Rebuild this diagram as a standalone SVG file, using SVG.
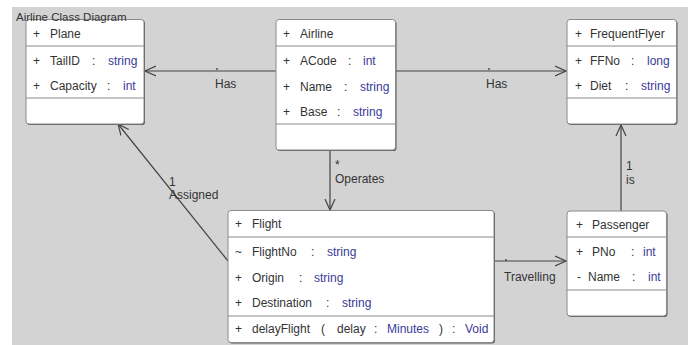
<svg xmlns="http://www.w3.org/2000/svg" width="688" height="345" viewBox="0 0 688 345">
<style>
text{font-family:"Liberation Sans",Arial,sans-serif;font-size:12px;fill:#333}
.t{fill:#3a3a9a}
.box{fill:#fff;stroke:#8a8a8a;stroke-width:1}
.sh{fill:#555}
.div{stroke:#8a8a8a;stroke-width:1}
.ln{stroke:#444;stroke-width:1.2;fill:none}
</style>
<defs>
<marker id="arr" viewBox="0 0 12 12" refX="11" refY="6" markerWidth="12" markerHeight="12" markerUnits="userSpaceOnUse" orient="auto">
<path d="M0,1 L11,6 L0,11" fill="none" stroke="#444" stroke-width="1.2"/>
</marker>
</defs>
<rect x="0" y="0" width="688" height="345" fill="#fff"/>
<rect x="12" y="7" width="676" height="338" fill="#d3d3d3"/>

<g id="connectors">
<line class="ln" x1="276" y1="71" x2="145" y2="71" marker-end="url(#arr)"/>
<circle cx="217" cy="69" r="0.9" fill="#444"/>
<text x="215" y="88">Has</text>
<line class="ln" x1="396" y1="71" x2="566" y2="71" marker-end="url(#arr)"/>
<circle cx="489" cy="69" r="0.9" fill="#444"/>
<text x="486" y="88">Has</text>
<line class="ln" x1="330" y1="150" x2="330" y2="210" marker-end="url(#arr)"/>
<text x="335" y="169">*</text>
<text x="335" y="183">Operates</text>
<line class="ln" x1="228" y1="261" x2="118" y2="124" marker-end="url(#arr)"/>
<text x="169" y="186">1</text>
<text x="169" y="199">Assigned</text>
<line class="ln" x1="494" y1="261" x2="566" y2="261" marker-end="url(#arr)"/>
<circle cx="506" cy="260" r="0.9" fill="#444"/>
<text x="504" y="281">Travelling</text>
<line class="ln" x1="621" y1="211" x2="621" y2="125" marker-end="url(#arr)"/>
<text x="626" y="170">1</text>
<text x="626" y="184">is</text>
</g>

<g id="Plane">
<rect class="sh" x="27" y="20.5" width="118" height="104.5" rx="3"/>
<rect class="box" x="26" y="19.5" width="118" height="104.5" rx="3"/>
<line class="div" x1="26" y1="46" x2="144" y2="46"/>
<line class="div" x1="26" y1="98" x2="144" y2="98"/>
<text x="33" y="38">+</text><text x="50" y="38">Plane</text>
<text x="33" y="65">+</text><text x="50" y="65">TailID</text><text x="92" y="65">:</text><text class="t" x="108" y="65">string</text>
<text x="33" y="90">+</text><text x="50" y="90">Capacity</text><text x="107" y="90">:</text><text class="t" x="123" y="90">int</text>
</g>

<g id="Airline">
<rect class="sh" x="277" y="20.5" width="119.5" height="130.5" rx="3"/>
<rect class="box" x="276" y="19.5" width="119.5" height="130.5" rx="3"/>
<line class="div" x1="276" y1="46" x2="395.5" y2="46"/>
<line class="div" x1="276" y1="124" x2="395.5" y2="124"/>
<text x="283" y="38">+</text><text x="300" y="38">Airline</text>
<text x="283" y="65">+</text><text x="300" y="65">ACode</text><text x="348" y="65">:</text><text class="t" x="363" y="65">int</text>
<text x="283" y="91">+</text><text x="300" y="91">Name</text><text x="344" y="91">:</text><text class="t" x="360" y="91">string</text>
<text x="283" y="116">+</text><text x="300" y="116">Base</text><text x="337" y="116">:</text><text class="t" x="353" y="116">string</text>
</g>

<g id="FrequentFlyer">
<rect class="sh" x="568" y="20.5" width="109.5" height="104.5" rx="3"/>
<rect class="box" x="567" y="19.5" width="109.5" height="104.5" rx="3"/>
<line class="div" x1="567" y1="46" x2="676.5" y2="46"/>
<line class="div" x1="567" y1="98" x2="676.5" y2="98"/>
<text x="575" y="38">+</text><text x="590" y="38">FrequentFlyer</text>
<text x="575" y="65">+</text><text x="590" y="65">FFNo</text><text x="631" y="65">:</text><text class="t" x="647" y="65">long</text>
<text x="575" y="90">+</text><text x="590" y="90">Diet</text><text x="625" y="90">:</text><text class="t" x="641" y="90">string</text>
</g>

<g id="Flight">
<rect class="sh" x="229" y="211.5" width="266" height="132" rx="3"/>
<rect class="box" x="228" y="210.5" width="266" height="132" rx="3"/>
<line class="div" x1="228" y1="237" x2="494" y2="237"/>
<line class="div" x1="228" y1="316" x2="494" y2="316"/>
<text x="235" y="228">+</text><text x="252" y="228">Flight</text>
<text x="235" y="256">~</text><text x="252" y="256">FlightNo</text><text x="311" y="256">:</text><text class="t" x="327" y="256">string</text>
<text x="235" y="282">+</text><text x="252" y="282">Origin</text><text x="299" y="282">:</text><text class="t" x="314" y="282">string</text>
<text x="235" y="307">+</text><text x="252" y="307">Destination</text><text x="326" y="307">:</text><text class="t" x="342" y="307">string</text>
<text x="235" y="333">+</text><text x="252" y="333">delayFlight</text><text x="321" y="333">(</text><text x="337" y="333">delay</text><text x="374" y="333">:</text><text class="t" x="387" y="333">Minutes</text><text x="439" y="333">)</text><text x="452" y="333">:</text><text class="t" x="465" y="333">Void</text>
</g>

<g id="Passenger">
<rect class="sh" x="568" y="212" width="99.5" height="105" rx="3"/>
<rect class="box" x="567" y="211" width="99.5" height="105" rx="3"/>
<line class="div" x1="567" y1="237" x2="666.5" y2="237"/>
<line class="div" x1="567" y1="290" x2="666.5" y2="290"/>
<text x="576" y="229">+</text><text x="592" y="229">Passenger</text>
<text x="576" y="256">+</text><text x="592" y="256">PNo</text><text x="631" y="256">:</text><text class="t" x="643" y="256">int</text>
<text x="577" y="281">-</text><text x="588" y="281">Name</text><text x="632" y="281">:</text><text class="t" x="648" y="281">int</text>
</g>

<text x="16" y="21" style="font-size:11.5px">Airline Class Diagram</text>
</svg>
